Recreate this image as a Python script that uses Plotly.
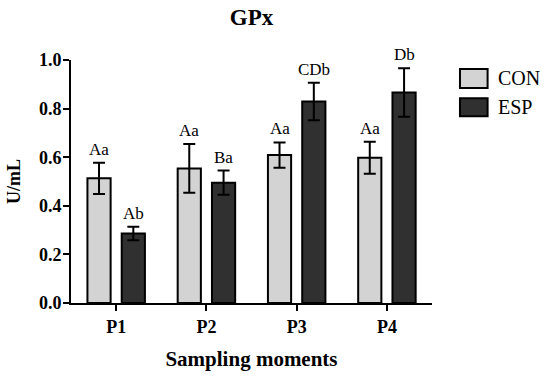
import plotly.graph_objects as go

categories = ["P1", "P2", "P3", "P4"]
con_values = [0.513, 0.554, 0.609, 0.598]
con_errors = [0.064, 0.100, 0.052, 0.066]
esp_values = [0.286, 0.495, 0.829, 0.866]
esp_errors = [0.028, 0.050, 0.077, 0.100]
con_labels = ["Aa", "Aa", "Aa", "Aa"]
esp_labels = ["Ab", "Ba", "CDb", "Db"]
y_ticks = [0.0, 0.2, 0.4, 0.6, 0.8, 1.0]

FONT = "Liberation Serif"
BAR_W = 0.257
CON_OFF = -0.318
ESP_OFF = 0.062

fig = go.Figure()
fig.add_trace(go.Bar(
    x=categories, y=con_values, name="CON",
    width=BAR_W, offset=CON_OFF,
    marker=dict(color="#d3d3d3", line=dict(color="black", width=2)),
    error_y=dict(type="data", array=con_errors, visible=True,
                 color="black", thickness=2, width=6),
    showlegend=False,
))
fig.add_trace(go.Bar(
    x=categories, y=esp_values, name="ESP",
    width=BAR_W, offset=ESP_OFF,
    marker=dict(color="#303030", line=dict(color="black", width=2)),
    error_y=dict(type="data", array=esp_errors, visible=True,
                 color="black", thickness=2, width=6),
    showlegend=False,
))

annotations = []
for i in range(len(categories)):
    annotations.append(dict(
        x=i + CON_OFF + BAR_W / 2, y=con_values[i] + con_errors[i],
        xref="x", yref="y", text=con_labels[i], showarrow=False,
        yanchor="bottom", yshift=2, font=dict(family=FONT, size=17, color="black")))
    annotations.append(dict(
        x=i + ESP_OFF + BAR_W / 2, y=esp_values[i] + esp_errors[i],
        xref="x", yref="y", text=esp_labels[i], showarrow=False,
        yanchor="bottom", yshift=2, font=dict(family=FONT, size=17, color="black")))

# manual legend
legend_items = [("CON", "#d3d3d3", 0.963, 0.885, 0.924), ("ESP", "#303030", 0.843, 0.769, 0.806)]
shapes = []
for name, col, y1, y0, yc in legend_items:
    shapes.append(dict(type="rect", xref="paper", yref="paper",
                       x0=1.0775, x1=1.154, y0=y0, y1=y1,
                       fillcolor=col, line=dict(color="black", width=2)))
    annotations.append(dict(x=1.178, y=yc, xref="paper", yref="paper", text=name,
                            showarrow=False, xanchor="left", yanchor="middle",
                            font=dict(family=FONT, size=20, color="black")))

fig.update_layout(
    width=550, height=381,
    margin=dict(l=67, r=118, t=60, b=78),
    paper_bgcolor="white", plot_bgcolor="white",
    font=dict(family=FONT, color="black"),
    title=dict(text="<b>GPx</b>", x=0.5, xref="paper", y=1 - 17 / 381, yref="container",
               xanchor="center", yanchor="middle", font=dict(family=FONT, size=23, color="black")),
    annotations=annotations,
    shapes=shapes,
    xaxis=dict(
        type="category", range=[-0.5, 3.5],
        tickvals=categories, ticktext=["<b>%s</b>" % c for c in categories],
        showline=True, linecolor="black", linewidth=2,
        ticks="outside", ticklen=6, tickwidth=2, tickcolor="black",
        tickfont=dict(family=FONT, size=18, color="black"),
        title=dict(text="<b>Sampling moments</b>", font=dict(family=FONT, size=21, color="black"), standoff=16),
        showgrid=False, zeroline=False,
    ),
    yaxis=dict(
        range=[0, 1.0],
        tickvals=y_ticks, ticktext=["<b>%.1f</b>" % v for v in y_ticks],
        showline=True, linecolor="black", linewidth=2,
        ticks="outside", ticklen=6, tickwidth=2, tickcolor="black",
        tickfont=dict(family=FONT, size=18, color="black"),
        ticklabelstandoff=-2,
        title=dict(text="<b>U/mL</b>", font=dict(family=FONT, size=18, color="black"), standoff=14),
        showgrid=False, zeroline=False,
    ),
)

fig.write_html("out.html", config={"displayModeBar": False},
               post_script="document.body.style.margin='0';")
